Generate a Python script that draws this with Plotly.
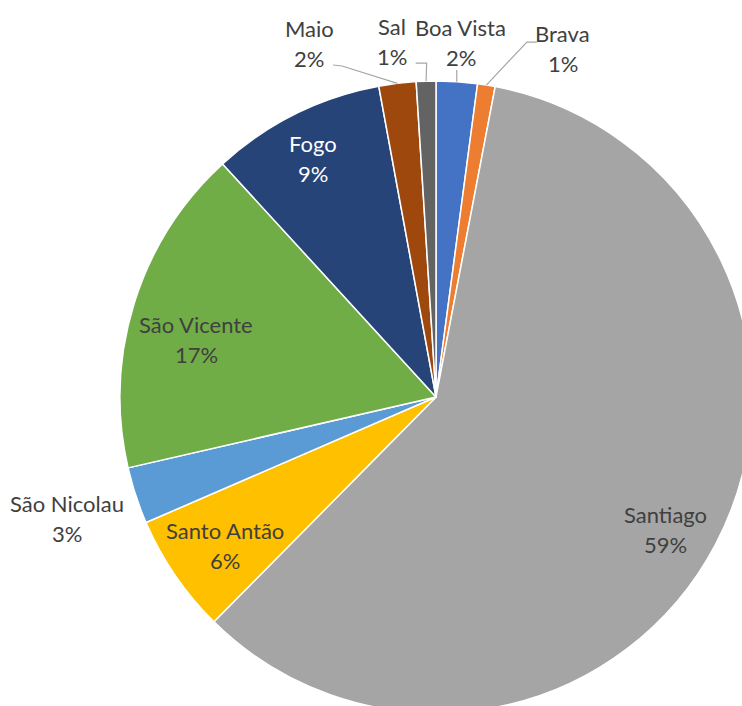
import math
import plotly.graph_objects as go

# Share of each island, clockwise from 12 o'clock
islands = ["Boa Vista", "Brava", "Santiago", "Santo Antão", "São Nicolau",
           "São Vicente", "Fogo", "Maio", "Sal"]
shares = [2.1, 0.9, 59.4, 6.1, 2.9, 16.8, 8.9, 1.9, 1.0]
colors = ["#4472C4", "#ED7D31", "#A5A5A5", "#FFC000", "#5B9BD5",
          "#70AD47", "#264478", "#9E480E", "#636363"]

# Canvas and pie geometry (pixels); the pie runs slightly past the page edge
W, H = 760, 720
CX, CY, R = 436, 397, 316

# Label placement: radius as a fraction of R, angular nudge in degrees
label_place = {
    "Boa Vista": (1.126, 0.2),
    "Brava": (1.175, 10.8),
    "Santiago": (0.839, 2.2),
    "Santo Antão": (0.816, -0.7),
    "São Nicolau": (1.23, 0.0),
    "São Vicente": (0.78, -3.9),
    "Fogo": (0.85, -0.7),
    "Maio": (1.19, -12.7),
    "Sal": (1.135, -5.3),
}
label_color = {"Fogo": "#FFFFFF"}

# Leader lines: offsets (px) from the label centre, ending on the rim
leaders = {
    "Maio": [(24, 22), (33, 23)],
    "Sal": [(24, 22), (35, 22)],
    "Boa Vista": [(-4, 28)],
    "Brava": [(-26, -6), (-36, -6)],
}

FONT = "Lato, 'Open Sans', sans-serif"
TEXT = "#404040"


def px_to_paper(x, y):
    return x / W, 1 - y / H


fig = go.Figure(go.Pie(
    labels=islands,
    values=shares,
    sort=False,
    direction="clockwise",
    rotation=0,
    textinfo="none",
    marker=dict(colors=colors, line=dict(color="#FFFFFF", width=1.5)),
    domain=dict(x=[(CX - R) / W, (CX + R) / W],
                y=[(H - (CY + R)) / H, (H - (CY - R)) / H]),
    showlegend=False,
))

total = sum(shares)
annotations = []
shapes = []
cum = 0.0
for name, v in zip(islands, shares):
    mid = (cum + v / 2) / total * 360.0
    cum += v
    rf, nudge = label_place[name]
    th = math.radians(mid + nudge)
    lx = CX + rf * R * math.sin(th)
    ly = CY - rf * R * math.cos(th)
    color = label_color.get(name, TEXT)
    pct = f"{round(v / total * 100)}%"
    for txt, shift in ((name, 15), (pct, -15)):
        ax, ay = px_to_paper(lx, ly)
        annotations.append(dict(
            x=ax, y=ay, xref="paper", yref="paper", text=txt,
            showarrow=False, xanchor="center", yanchor="middle",
            yshift=shift, font=dict(family=FONT, size=22, color=color),
        ))
    if name in leaders:
        tm = math.radians(mid)
        pts = [(lx + dx, ly + dy) for dx, dy in leaders[name]]
        pts.append((CX + R * math.sin(tm), CY - R * math.cos(tm)))
        path = "M " + " L ".join(
            "{:.5f},{:.5f}".format(*px_to_paper(x, y)) for x, y in pts)
        shapes.append(dict(type="path", path=path, xref="paper", yref="paper",
                           line=dict(color="#A6A6A6", width=1.2)))

fig.update_layout(
    width=W, height=H,
    margin=dict(l=0, r=0, t=0, b=0),
    paper_bgcolor="#FFFFFF",
    plot_bgcolor="#FFFFFF",
    annotations=annotations,
    shapes=shapes,
)

fig.write_html(
    "out.html",
    post_script=("document.documentElement.style.overflow='hidden';"
                 "document.body.style.overflow='hidden';"
                 "document.body.style.margin='0';"),
)
